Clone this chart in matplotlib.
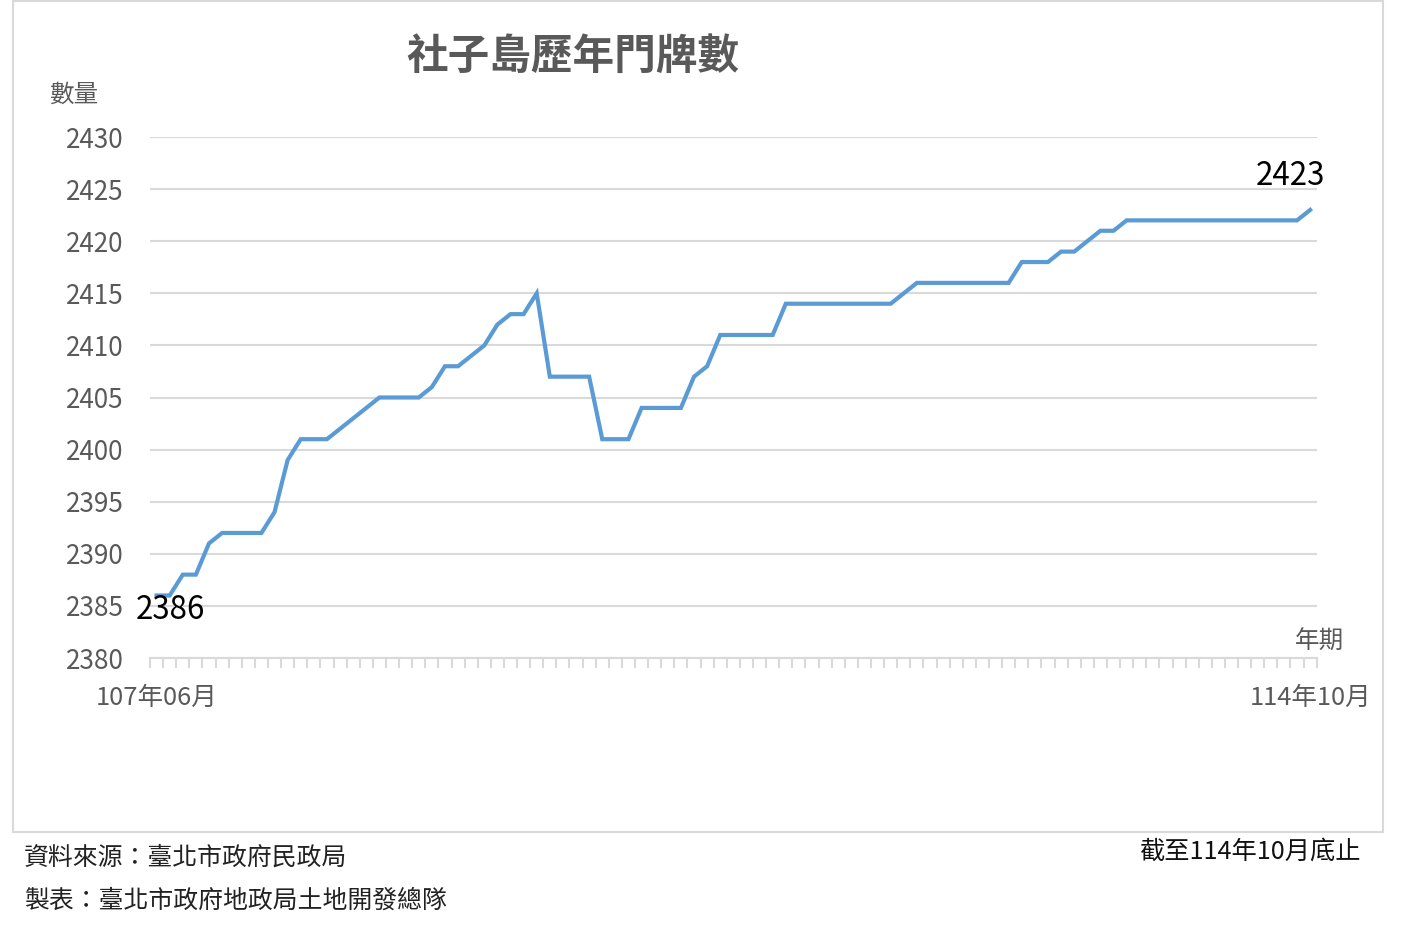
import matplotlib
matplotlib.use("Agg")
import matplotlib.pyplot as plt
from matplotlib.patches import Rectangle
from matplotlib.ticker import FixedLocator, NullFormatter

plt.rcParams['font.family'] = ['Noto Sans CJK TC', 'DejaVu Sans']

title = "社子島歷年門牌數"
y_label = "數量"
x_label = "年期"
first_label = "107年06月"
last_label = "114年10月"
source_text = "資料來源：臺北市政府民政局"
maker_text = "製表：臺北市政府地政局土地開發總隊"
asof_text = "截至114年10月底止"

# monthly values from 107/06 to 114/10 (89 months)
values = [
    2386, 2386, 2388, 2388, 2391, 2392, 2392, 2392, 2392, 2394,
    2399, 2401, 2401, 2401, 2402, 2403, 2404, 2405, 2405, 2405,
    2405, 2406, 2408, 2408, 2409, 2410, 2412, 2413, 2413, 2415,
    2407, 2407, 2407, 2407, 2401, 2401, 2401, 2404, 2404, 2404,
    2404, 2407, 2408, 2411, 2411, 2411, 2411, 2411, 2414, 2414,
    2414, 2414, 2414, 2414, 2414, 2414, 2414, 2415, 2416, 2416,
    2416, 2416, 2416, 2416, 2416, 2416, 2418, 2418, 2418, 2419,
    2419, 2420, 2421, 2421, 2422, 2422, 2422, 2422, 2422, 2422,
    2422, 2422, 2422, 2422, 2422, 2422, 2422, 2422, 2423,
]
y_ticks = [2380, 2385, 2390, 2395, 2400, 2405, 2410, 2415, 2420, 2425, 2430]

W, H = 1409, 943
fig = plt.figure(figsize=(W / 100, H / 100), dpi=100)
fig.patch.set_facecolor("white")

# chart border
fig.patches.append(Rectangle((13 / W, 1 - 832 / H), 1370 / W, 831 / H,
                             transform=fig.transFigure, fill=False,
                             edgecolor="#d9d9d9", linewidth=1.5))

ax = fig.add_axes([150 / W, 1 - 658 / H, 1166.7 / W, 521 / H])
n = len(values)
xs = list(range(n))
ax.plot(xs, values, color="#5B9BD5", linewidth=3.0, solid_joinstyle="miter", zorder=3)
ax.set_xlim(-0.5, n - 0.5)
ax.set_ylim(2380, 2430)

for s in ["top", "right", "left"]:
    ax.spines[s].set_visible(False)
ax.spines["bottom"].set_color("#d9d9d9")
ax.spines["bottom"].set_linewidth(1.5)

ax.set_yticks(y_ticks)
ax.tick_params(axis="y", length=0, pad=19, labelsize=18.8, labelcolor="#595959")
ax.yaxis.grid(True, color="#d9d9d9", linewidth=1.5)
ax.set_axisbelow(True)

ax.xaxis.set_major_locator(FixedLocator([i - 0.5 for i in range(n + 1)]))
ax.xaxis.set_major_formatter(NullFormatter())
ax.tick_params(axis="x", direction="out", length=7, width=1.5, color="#d9d9d9")

# first/last category labels
ax.text(0, -0.077, first_label, transform=ax.get_xaxis_transform(),
        ha="center", va="center", fontsize=18.4, color="#595959")
ax.text(n - 1, -0.077, last_label, transform=ax.get_xaxis_transform(),
        ha="center", va="center", fontsize=18.4, color="#595959")

# data labels
ax.annotate(str(values[0]), (0, values[0]), xytext=(14, -15), textcoords="offset pixels",
            ha="center", va="center", fontsize=22.5, color="black")
ax.annotate(str(values[-1]), (n - 1, values[-1]), xytext=(-20, 34), textcoords="offset pixels",
            ha="center", va="center", fontsize=22.5, color="black")

fig.text(573 / W, 1 - 57 / H, title, ha="center", va="center", fontsize=30,
         fontweight="bold", color="#595959")
fig.text(74 / W, 1 - 95 / H, y_label, ha="center", va="center", fontsize=17.7, color="#595959")
fig.text(1320 / W, 1 - 642 / H, x_label, ha="center", va="center", fontsize=17.7, color="#595959")

fig.text(24 / W, 1 - 858 / H, source_text, ha="left", va="center", fontsize=17.9, color="#222222")
fig.text(24 / W, 1 - 901 / H, maker_text, ha="left", va="center", fontsize=17.9, color="#222222")
fig.text(1361 / W, 1 - 852 / H, asof_text, ha="right", va="center", fontsize=18.2, color="#111111")

fig.savefig("out.png", dpi=100, facecolor="white")
